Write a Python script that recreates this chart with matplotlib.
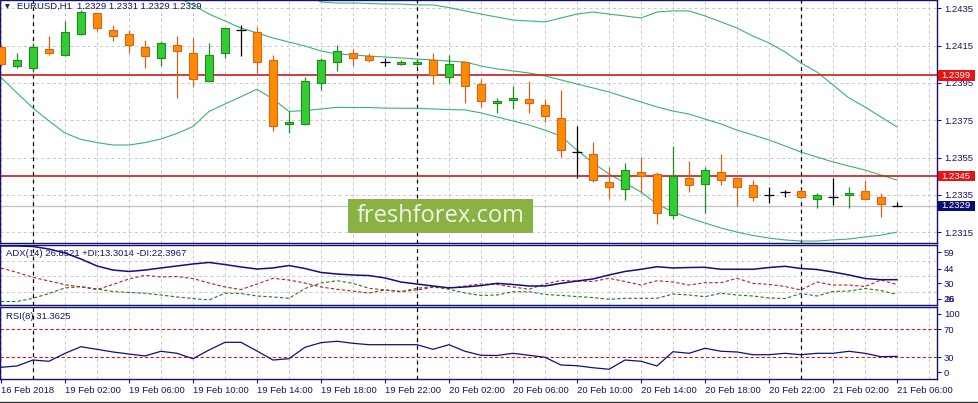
import numpy as np
import matplotlib.pyplot as plt
import matplotlib.transforms as mtransforms
from matplotlib.patches import Rectangle
from matplotlib.lines import Line2D

plt.rcParams['font.family'] = ['Liberation Sans', 'DejaVu Sans']

# EURUSD H1, 16 Feb 22:00 .. 21 Feb 06:00 (57 bars)
opens = [1.24141, 1.24039, 1.24028, 1.24130, 1.24098, 1.24211, 1.24323, 1.24232, 1.24211, 1.24141,
         1.24082, 1.24152, 1.24109, 1.23959, 1.24109, 1.24234, 1.24221, 1.24071, 1.23728, 1.23728,
         1.23948, 1.24060, 1.24109, 1.24093, 1.24060, 1.24050, 1.24050, 1.24071, 1.23980, 1.24060,
         1.23943, 1.23841, 1.23860, 1.23862, 1.23830, 1.23760, 1.23578, 1.23567, 1.23417, 1.23380,
         1.23471, 1.23460, 1.23240, 1.23438, 1.23406, 1.23471, 1.23438, 1.23401, 1.23347, 1.23363,
         1.23369, 1.23326, 1.23337, 1.23347, 1.23369, 1.23337, 1.23290]
highs = [1.24153, 1.24112, 1.24166, 1.24201, 1.24282, 1.24341, 1.24325, 1.24260, 1.24232, 1.24178,
         1.24173, 1.24203, 1.24189, 1.24162, 1.24246, 1.24259, 1.24248, 1.24098, 1.23798, 1.23980,
         1.24082, 1.24152, 1.24130, 1.24109, 1.24082, 1.24071, 1.24080, 1.24109, 1.24098, 1.24065,
         1.23969, 1.23867, 1.23932, 1.23959, 1.23862, 1.23910, 1.23719, 1.23631, 1.23497, 1.23519,
         1.23551, 1.23470, 1.23613, 1.23531, 1.23501, 1.23569, 1.23440, 1.23428, 1.23390, 1.23374,
         1.23380, 1.23358, 1.23438, 1.23390, 1.23428, 1.23358, 1.23310]
lows = [1.24041, 1.24028, 1.24010, 1.24098, 1.24095, 1.24208, 1.24230, 1.24176, 1.24109, 1.24028,
        1.24039, 1.23867, 1.23930, 1.23955, 1.24082, 1.24096, 1.24001, 1.23690, 1.23680, 1.23725,
        1.23912, 1.24012, 1.24039, 1.24060, 1.24039, 1.24048, 1.24041, 1.23943, 1.23948, 1.23841,
        1.23819, 1.23787, 1.23808, 1.23787, 1.23739, 1.23551, 1.23438, 1.23417, 1.23326, 1.23320,
        1.23358, 1.23193, 1.23219, 1.23367, 1.23251, 1.23401, 1.23288, 1.23318, 1.23304, 1.23337,
        1.23337, 1.23278, 1.23294, 1.23278, 1.23326, 1.23229, 1.23290]
closes = [1.24050, 1.24071, 1.24141, 1.24109, 1.24221, 1.24329, 1.24243, 1.24200, 1.24152, 1.24093,
          1.24162, 1.24119, 1.23969, 1.24098, 1.24243, 1.24234, 1.24060, 1.23717, 1.23739, 1.23959,
          1.24071, 1.24119, 1.24082, 1.24071, 1.24060, 1.24062, 1.24062, 1.23991, 1.24050, 1.23932,
          1.23851, 1.23851, 1.23867, 1.23841, 1.23771, 1.23590, 1.23578, 1.23428, 1.23390, 1.23481,
          1.23449, 1.23251, 1.23449, 1.23401, 1.23481, 1.23428, 1.23390, 1.23337, 1.23347, 1.23363,
          1.23337, 1.23347, 1.23337, 1.23358, 1.23326, 1.23299, 1.23290]

nan = np.nan
bb_upper = [nan] * 19 + [
    1.24427, 1.24384, 1.24378, 1.24378, 1.24376, 1.24373, 1.24373, 1.24368, 1.24368, 1.24354,
    1.24336, 1.24319, 1.24303, 1.24287, 1.24282, 1.24277, 1.24298, 1.24319, 1.24330, 1.24319,
    1.24309, 1.24298, 1.24330, 1.24336, 1.24336, 1.24309, 1.24277, 1.24244, 1.24201, 1.24164,
    1.24116, 1.24057, 1.24008, 1.23939, 1.23869, 1.23821, 1.23767, 1.23714]
bb_mid = [nan] * 11 + [
    1.24411, 1.24368, 1.24319, 1.24282, 1.24244, 1.24218, 1.24191, 1.24169, 1.24148, 1.24121,
    1.24105, 1.24100, 1.24094, 1.24089, 1.24084, 1.24078, 1.24073, 1.24067, 1.24062, 1.24041,
    1.24025, 1.24014, 1.24003, 1.23987, 1.23966, 1.23944, 1.23923, 1.23901, 1.23874, 1.23848,
    1.23821, 1.23799, 1.23783, 1.23756, 1.23730, 1.23697, 1.23671, 1.23644, 1.23612, 1.23579,
    1.23553, 1.23526, 1.23504, 1.23483, 1.23456, 1.23429]
bb_lower = [1.23979, 1.23896, 1.23815, 1.23746, 1.23681, 1.23647, 1.23630, 1.23617, 1.23617, 1.23630,
            1.23649, 1.23679, 1.23716, 1.23797, 1.23837, 1.23876, 1.23916, 1.23864, 1.23797, 1.23802,
            1.23810, 1.23819, 1.23818, 1.23818, 1.23815, 1.23814, 1.23814, 1.23810, 1.23807, 1.23805,
            1.23789, 1.23767, 1.23746, 1.23724, 1.23697, 1.23665, 1.23590, 1.23521, 1.23462, 1.23413,
            1.23365, 1.23301, 1.23258, 1.23226, 1.23199, 1.23172, 1.23150, 1.23132, 1.23118, 1.23108,
            1.23102, 1.23102, 1.23108, 1.23113, 1.23124, 1.23134, 1.23150]

adx = [57.5, 57.5, 57.0, 54.7, 51.1, 45.6, 39.3, 35.6, 34.3, 35.6, 37.5, 39.3, 41.1, 42.5, 40.6,
       38.4, 36.5, 37.5, 39.7, 37.0, 33.4, 32.0, 31.1, 30.6, 28.4, 24.7, 22.9, 21.1, 19.4, 20.2,
       21.5, 23.5, 22.5, 21.1, 21.1, 23.5, 25.6, 27.5, 31.1, 34.3, 36.3, 38.6, 37.5, 37.9, 38.1,
       36.3, 36.3, 36.3, 37.9, 39.0, 37.0, 36.1, 33.8, 31.1, 27.9, 26.8, 26.85]
plus_di = [7.0, 7.0, 9.9, 14.3, 19.3, 20.6, 18.4, 16.1, 15.2, 14.5, 12.9, 11.1, 9.7, 8.4, 14.5,
           14.3, 12.0, 11.1, 9.9, 18.8, 23.8, 25.9, 23.5, 19.0, 17.5, 15.9, 19.0, 20.5, 18.1, 14.7,
           12.5, 12.9, 15.9, 15.9, 13.4, 12.5, 11.5, 10.6, 9.0, 9.9, 9.9, 9.9, 13.8, 12.9, 11.4,
           14.5, 12.9, 12.0, 10.2, 9.7, 14.3, 12.0, 16.1, 16.5, 18.8, 17.0, 13.3]
minus_di = [37.5, 33.4, 29.0, 25.6, 22.3, 20.2, 17.9, 22.5, 27.5, 30.8, 29.3, 29.7, 27.9, 23.8, 20.2,
            17.9, 22.9, 28.1, 26.5, 23.8, 20.2, 18.1, 16.5, 14.7, 17.5, 16.1, 17.5, 19.9, 19.0, 21.1,
            22.9, 22.5, 20.2, 18.1, 22.9, 26.1, 25.6, 25.2, 28.1, 25.2, 22.0, 25.9, 24.7, 22.0, 24.1,
            24.1, 28.1, 23.5, 22.6, 20.6, 17.5, 24.7, 22.0, 22.0, 20.6, 26.5, 22.4]
rsi = [15.7, 17.6, 26.1, 24.3, 35.7, 45.1, 41.4, 37.6, 34.7, 31.9, 38.6, 35.7, 28.0, 40.4, 51.4,
       51.4, 39.0, 26.1, 28.0, 44.3, 50.9, 52.9, 50.0, 48.0, 48.0, 48.0, 48.0, 41.4, 48.0, 38.6,
       32.9, 32.6, 35.7, 32.9, 30.0, 19.0, 18.0, 15.1, 12.9, 26.1, 24.3, 17.6, 38.0, 35.7, 42.9,
       38.6, 37.6, 33.7, 33.7, 35.7, 33.7, 35.7, 35.7, 38.6, 35.7, 30.9, 31.36]

date_ticks = [0, 4, 8, 12, 16, 20, 24, 28, 32, 36, 40, 44, 48, 52, 56]
date_labels = ['16 Feb 2018', '19 Feb 02:00', '19 Feb 06:00', '19 Feb 10:00', '19 Feb 14:00',
               '19 Feb 18:00', '19 Feb 22:00', '20 Feb 02:00', '20 Feb 06:00', '20 Feb 10:00',
               '20 Feb 14:00', '20 Feb 18:00', '20 Feb 22:00', '21 Feb 02:00', '21 Feb 06:00']
day_breaks = [2, 26, 50]
price_ticks = [1.2315, 1.2335, 1.2355, 1.2375, 1.2395, 1.2415, 1.2435]
levels = [1.2399, 1.2345]
last_price = 1.2329

NAVY = '#14146e'
GRID = '#c8c8c8'
FS = 6.8

fig = plt.figure(figsize=(9.79, 4.03), dpi=100)
ax = fig.add_axes([0.0005, 0.39777, 0.95658, 0.60099])
ax_adx = fig.add_axes([0.0005, 0.24392, 0.95658, 0.14739])
ax_rsi = fig.add_axes([0.0005, 0.05881, 0.95658, 0.17866])

x = np.arange(len(opens))
o = np.array(opens); h = np.array(highs); l = np.array(lows); c = np.array(closes)

for a in (ax, ax_adx, ax_rsi):
    a.set_xlim(-0.031, 58.5)
    for s in a.spines.values():
        s.set_color(NAVY)
        s.set_linewidth(1.0)
    for gx in range(0, 59, 2):
        a.axvline(gx, color=GRID, lw=0.7, ls=(0, (3, 3)), zorder=0.5)
    for d in day_breaks:
        a.axvline(d, color='black', lw=0.9, ls=(0, (3, 3)), zorder=0.8)
    a.yaxis.tick_right()
    a.tick_params(axis='y', length=3, width=0.8, color=NAVY, labelsize=FS,
                  labelcolor=NAVY, pad=2)

# main panel
ax.set_ylim(1.230932, 1.243918)
ax.set_xticks([])
ax.set_yticks(price_ticks)
ax.set_yticklabels([f'{p:.4f}' for p in price_ticks])
for p in price_ticks:
    ax.axhline(p, color=GRID, lw=0.7, ls=(0, (3, 3)), zorder=0.5)
ax.axhline(last_price, color='#c0c0c0', lw=0.9, zorder=0.6)

ax.plot(x, bb_upper, color='#3cb371', lw=0.8, zorder=1)
ax.plot(x, bb_mid, color='#3cb371', lw=0.8, zorder=1)
ax.plot(x, bb_lower, color='#3cb371', lw=0.8, zorder=1)
for lv in levels:
    ax.axhline(lv, color='#c41e1e', lw=1.2, zorder=1.5)

bull = c > o
bear = c < o
doji = c == o
ax.vlines(x[bull], l[bull], h[bull], color='#1f8a1f', lw=0.9, zorder=2)
ax.vlines(x[bear], l[bear], h[bear], color='#d8641a', lw=0.9, zorder=2)
ax.vlines(x[doji], l[doji], h[doji], color='black', lw=0.9, zorder=2)
ax.bar(x[bull], c[bull] - o[bull], bottom=o[bull], width=0.56, color='#32cd32',
       edgecolor='#1f8a1f', lw=0.8, zorder=3)
ax.bar(x[bear], o[bear] - c[bear], bottom=c[bear], width=0.56, color='#ff8c00',
       edgecolor='#d8641a', lw=0.8, zorder=3)
ax.hlines(c[doji], x[doji] - 0.32, x[doji] + 0.32, color='black', lw=0.9, zorder=3)

# right-side price boxes
bt = mtransforms.blended_transform_factory(ax.transAxes, ax.transData)
for val, col in [(levels[0], '#e81414'), (levels[1], '#e81414'), (last_price, '#0a0a78')]:
    ax.add_patch(Rectangle((1.0008, val - 0.000285), 0.0395, 0.00057, transform=bt,
                           facecolor=col, edgecolor='none', clip_on=False, zorder=5))
    ax.text(1.0205, val, f'{val:.4f}', transform=bt, ha='center', va='center',
            color='white', fontsize=FS, clip_on=False, zorder=6)

ax.text(0.018, 0.975, 'EURUSD,H1  1.2329 1.2331 1.2329 1.2329', transform=ax.transAxes,
        ha='left', va='center', color=NAVY, fontsize=FS)
ax.text(0.007, 0.975, '\u25bc', transform=ax.transAxes, ha='center', va='center',
        color=NAVY, fontsize=4.5, family='DejaVu Sans')

# ADX panel
ax_adx.set_ylim(4.09, 58.09)
ax_adx.set_xticks([])
for g in [44, 30, 16]:
    ax_adx.axhline(g, color=GRID, lw=0.7, ls=(0, (3, 3)), zorder=0.5)
adx_tick_pos = [52.0, 36.8, 23.8, 9.5]
ax_adx.set_yticks(adx_tick_pos)
ax_adx.set_yticklabels(['59', '44', '30', '16'])
# MT4 prints a second bottom label on top of "16"
lab16 = ax_adx.get_yticklabels()[-1]
ax_adx.annotate('26', xy=(0, 0.5), xycoords=lab16, ha='left', va='center',
                color=NAVY, fontsize=FS, annotation_clip=False)
ax_adx.plot(x, adx, color='#101080', lw=1.1, zorder=3)
ax_adx.plot(x, plus_di, color='#1f7a1f', lw=0.8, ls=(0, (3, 2)), zorder=2)
ax_adx.plot(x, minus_di, color='#c02020', lw=0.8, ls=(0, (3, 2)), zorder=2)
ax_adx.text(0.0064, 0.87, 'ADX(14) 26.8521 +DI:13.3014 -DI:22.3967',
            transform=ax_adx.transAxes, ha='left', va='center', color=NAVY, fontsize=FS)

# RSI panel
ax_rsi.set_ylim(-1.43, 101.43)
ax_rsi.set_yticks([91.9, 70, 30, 8.6])
ax_rsi.set_yticklabels(['100', '70', '30', '0'])
for lv in [70, 30]:
    ax_rsi.axhline(lv, color='#c02020', lw=0.8, ls=(0, (3, 2)), zorder=1)
ax_rsi.plot(x, rsi, color='#101080', lw=0.9, zorder=3)
ax_rsi.text(0.0055, 0.869, 'RSI(8) 31.3625', transform=ax_rsi.transAxes,
            ha='left', va='center', color=NAVY, fontsize=FS)
ax_rsi.set_xticks(date_ticks)
ax_rsi.set_xticklabels(date_labels)
ax_rsi.tick_params(axis='x', length=3, width=0.8, color=NAVY, labelsize=FS,
                   labelcolor=NAVY, pad=2)
for t in ax_rsi.get_xticklabels():
    t.set_ha('left')

# watermark
fig.add_artist(Rectangle((0.3555, 0.4226), 0.189, 0.0836, transform=fig.transFigure,
                         facecolor='#8ab242', edgecolor='none', zorder=5))
fig.text(0.45, 0.4644, 'freshforex.com', ha='center', va='center', color='#f4f4e8',
         fontsize=17, family=['Open Sans', 'DejaVu Sans'], zorder=6)

fig.add_artist(Line2D([0, 1], [0.0037, 0.0037], transform=fig.transFigure,
                      color='#303030', lw=1.0))

fig.savefig('out.png', dpi=100)
